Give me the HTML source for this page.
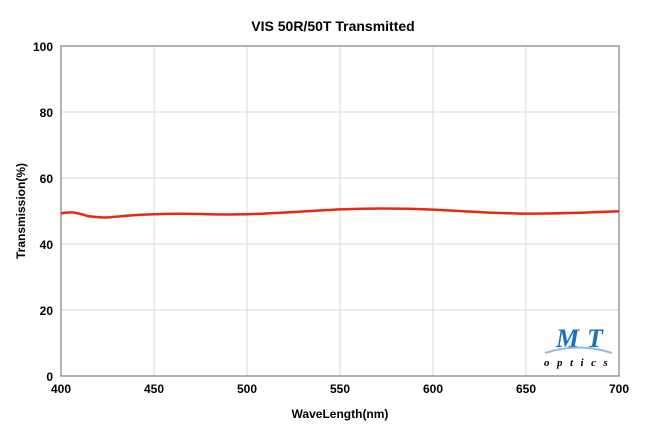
<!DOCTYPE html>
<html><head><style>body{margin:0;background:#fff;width:666px;height:440px;overflow:hidden}</style></head><body>
<svg width="666" height="440" xmlns="http://www.w3.org/2000/svg" font-family="Liberation Sans, sans-serif">
<rect width="666" height="440" fill="#fff"/>
<text x="333" y="31" text-anchor="middle" font-size="14" font-weight="bold">VIS 50R/50T Transmitted</text>
<g stroke="#d9d9d9" stroke-width="1">
<line x1="154" y1="46" x2="154" y2="376"/><line x1="247" y1="46" x2="247" y2="376"/><line x1="340" y1="46" x2="340" y2="376"/><line x1="433" y1="46" x2="433" y2="376"/><line x1="526" y1="46" x2="526" y2="376"/>
<line x1="61" y1="112" x2="619" y2="112"/><line x1="61" y1="178" x2="619" y2="178"/><line x1="61" y1="244" x2="619" y2="244"/><line x1="61" y1="310" x2="619" y2="310"/>
</g>
<rect x="61" y="46" width="558" height="330" fill="none" stroke="#999" stroke-width="1.5"/>
<g font-size="12" font-weight="bold" text-anchor="end">
<text x="53" y="51">100</text><text x="53" y="117">80</text><text x="53" y="183">60</text><text x="53" y="249">40</text><text x="53" y="315">20</text><text x="53" y="381">0</text>
</g>
<g font-size="12" font-weight="bold" text-anchor="middle">
<text x="61" y="393">400</text><text x="154" y="393">450</text><text x="247" y="393">500</text><text x="340" y="393">550</text><text x="433" y="393">600</text><text x="526" y="393">650</text><text x="619" y="393">700</text>
</g>
<text x="340" y="418" text-anchor="middle" font-size="12" font-weight="bold">WaveLength(nm)</text>
<text transform="translate(25,211) rotate(-90)" text-anchor="middle" font-size="12" font-weight="bold">Transmission(%)</text>
<path d="M61,213.3 C66,212.6 70,212 74,212.6 C80,213.5 84,215 89,216.3 C97,217 103,217.8 108,217.4 C120,216.5 130,215 154,214.3 C170,213.5 180,213.5 200,214 C215,214.5 230,214.6 247,214.3 C270,213.6 300,211.6 340,209.4 C370,208.4 390,207.8 433,209.6 C470,211.5 500,213.6 526,213.6 C560,213.6 590,212.5 619,211.2" fill="none" stroke="#e8290b" stroke-width="2.5"/>
<g>
<text x="556" y="347" font-size="26" font-weight="bold" font-style="italic" fill="#1f6fc0" font-family="Liberation Serif, serif">M</text>
<text x="587" y="347" font-size="26" font-weight="bold" font-style="italic" fill="#1f6fc0" font-family="Liberation Serif, serif">T</text>
<path d="M545,353 Q578,342 612,353" fill="none" stroke="#8cbbe6" stroke-width="2"/>
<text x="544" y="366" font-size="11" font-style="italic" font-weight="bold" letter-spacing="7.5" font-family="Liberation Serif, serif">optics</text>
</g>
</svg>
</body></html>
